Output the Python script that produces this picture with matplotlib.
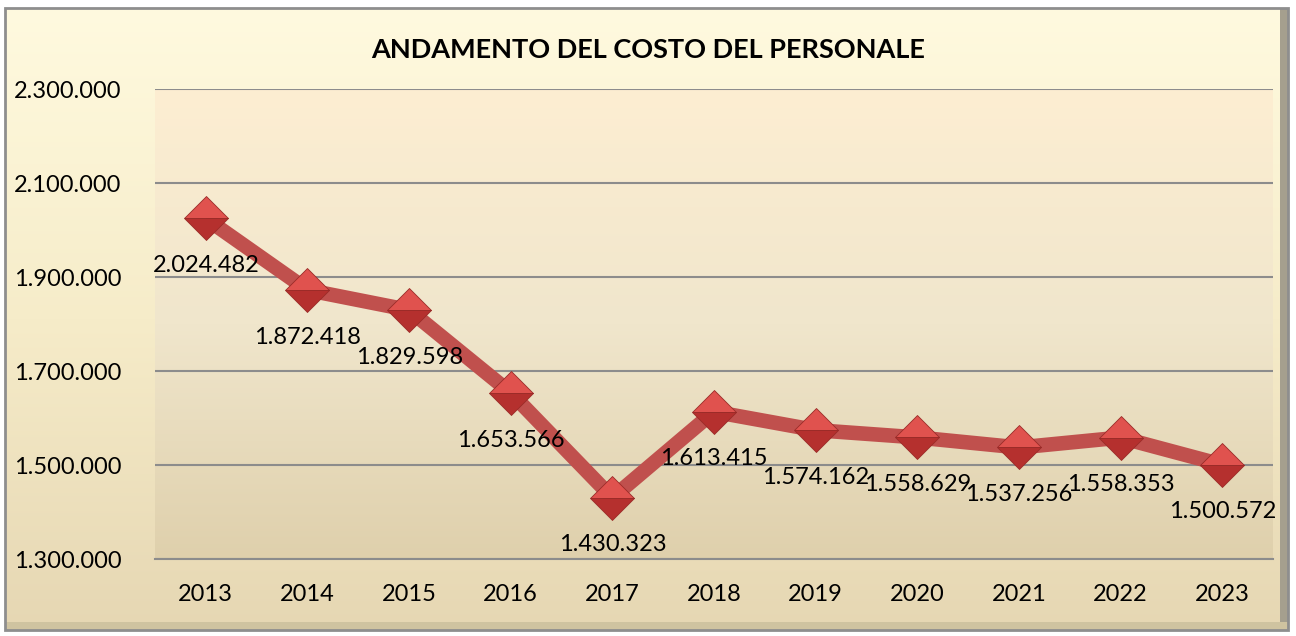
import numpy as np
import matplotlib.pyplot as plt
from matplotlib.colors import LinearSegmentedColormap
from matplotlib.patches import Rectangle

plt.rcParams['font.family'] = ['Lato', 'DejaVu Sans']

years = ["2013", "2014", "2015", "2016", "2017", "2018",
         "2019", "2020", "2021", "2022", "2023"]
costs = [2024482, 1872418, 1829598, 1653566, 1430323, 1613415,
         1574162, 1558629, 1537256, 1558353, 1500572]
yticks = [1300000, 1500000, 1700000, 1900000, 2100000, 2300000]


def fmt(v):
    return f"{v:,}".replace(",", ".")


fig = plt.figure(figsize=(12.96, 6.36), dpi=100)

# figure background with gradient and frame
bg = fig.add_axes([0, 0, 1, 1], zorder=-10)
bg.set_axis_off()
bg.set_xlim(0, 1)
bg.set_ylim(0, 1)
fig_cmap = LinearSegmentedColormap.from_list("fig", ["#E6D7B3", "#F6ECC9", "#FFFADF"])
grad = np.linspace(0, 1, 256).reshape(-1, 1)
bg.imshow(grad, cmap=fig_cmap, origin="lower", aspect="auto",
          extent=[5/1296, 1288/1296, 6/636, 1-8/636], zorder=0)
bg.add_patch(Rectangle((5/1296, 6/636), 1283/1296, 1-14/636, fill=False,
                       ec="#8E8E8E", lw=2, zorder=2))
bg.add_patch(Rectangle((1280/1296, 6/636), 8/1296, 1-14/636,
                       fc="#A59F8E", ec="none", zorder=1))
bg.add_patch(Rectangle((5/1296, 6/636), 1283/1296, 8/636,
                       fc="#CFC3A0", ec="none", zorder=1))

ax = fig.add_axes([155/1296, 1-559/636, 1118/1296, 470/636])
x = np.arange(len(years))

plot_cmap = LinearSegmentedColormap.from_list("plot", ["#DFD0AC", "#F0E6CC", "#FDEED2"])
ax.imshow(grad, cmap=plot_cmap, origin="lower", aspect="auto",
          extent=[-0.5, 10.5, 1300000, 2300000], zorder=0)

ax.set_xlim(-0.5, 10.5)
ax.set_ylim(1300000, 2300000)
ax.set_yticks(yticks)
ax.set_yticklabels([fmt(v) for v in yticks])
ax.set_xticks(x)
ax.set_xticklabels(years)
ax.tick_params(axis="y", length=0, pad=24, labelsize=17)
ax.tick_params(axis="x", length=0, pad=18, labelsize=17)
ax.grid(axis="y", color="#8C8C8C", lw=1.5, zorder=1)
for s in ["left", "right", "top"]:
    ax.spines[s].set_visible(False)
ax.spines["bottom"].set_color("#8C8C8C")
ax.spines["bottom"].set_linewidth(1.5)

ax.plot(x, costs, color="#C0504D", lw=10.5, zorder=3, solid_capstyle="butt")
ax.plot(x, costs, ls="none", marker="D", markersize=22, fillstyle="top",
        markerfacecolor="#E0524E", markerfacecoloralt="#B5302E",
        markeredgecolor="#9A2B28", markeredgewidth=0.6, zorder=4)

for xi, v in zip(x, costs):
    ax.annotate(fmt(v), (xi, v), xytext=(0, -34), textcoords="offset points",
                ha="center", va="center", fontsize=17, color="black", zorder=5)

fig.text(648/1296, 1-50/636, "ANDAMENTO DEL COSTO DEL PERSONALE",
         ha="center", va="center", fontsize=19.5, fontweight="bold")

fig.savefig("out.png", dpi=100)
